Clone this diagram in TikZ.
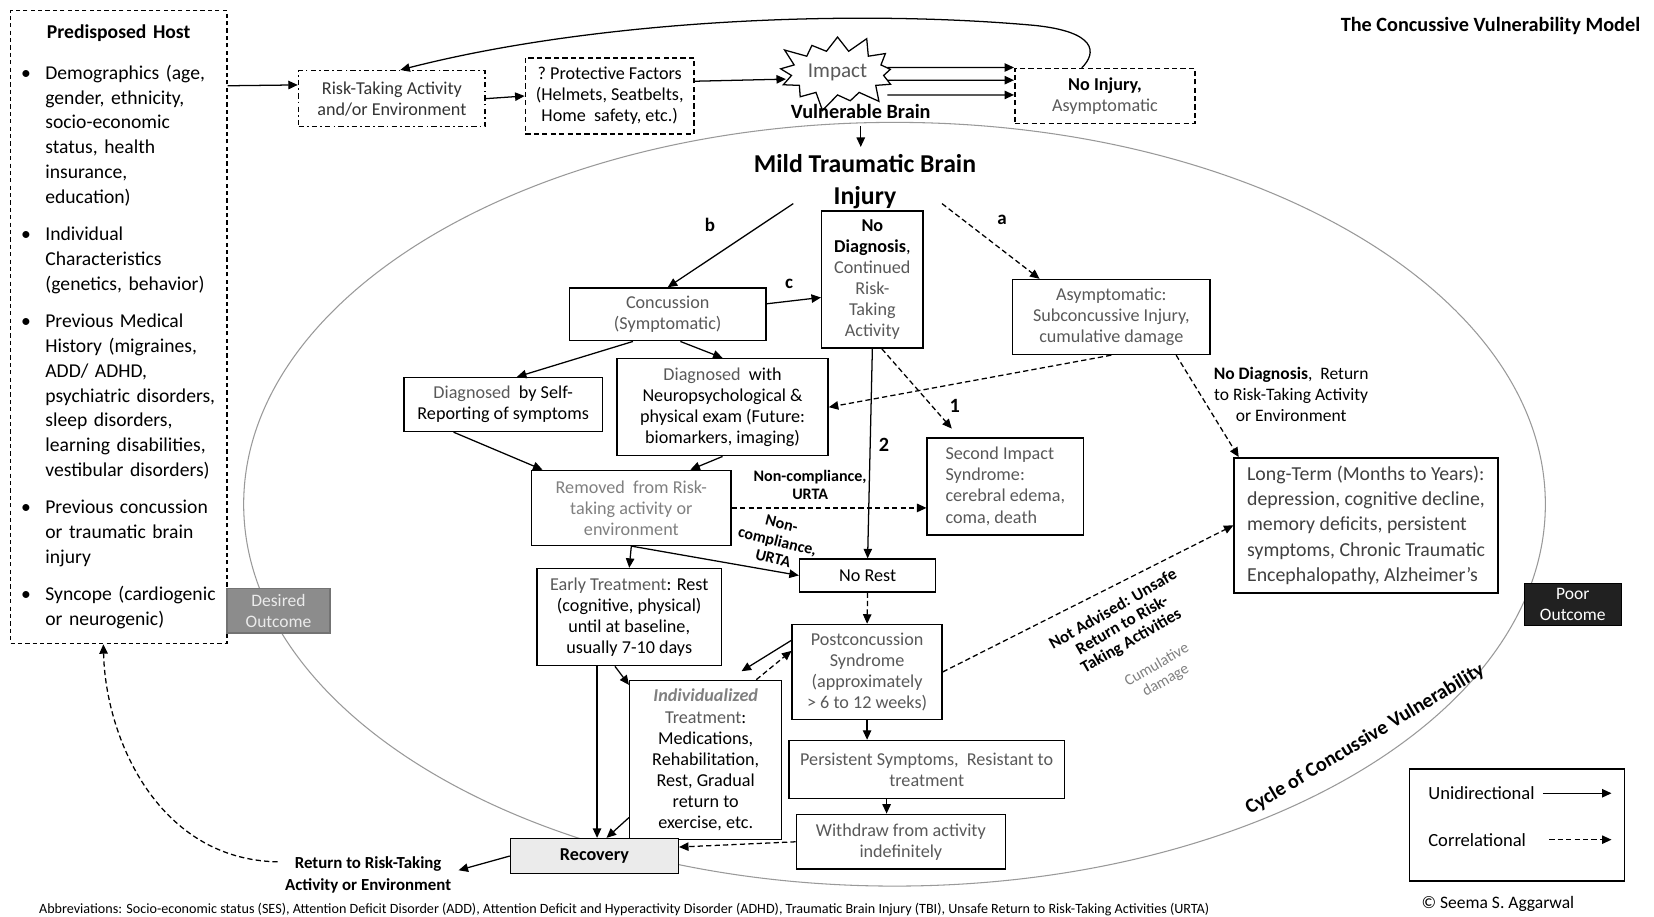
\documentclass[tikz,border=0pt]{standalone}
\usepackage{fontspec}
\setmainfont{Carlito}
\usepackage{tikz}
\usetikzlibrary{arrows.meta,shapes.symbols}
\definecolor{txtgray}{gray}{0.35}
\definecolor{ltgray}{gray}{0.5}
\definecolor{linegray}{gray}{0.6}
\newcommand{\boxfont}{\fontsize{8.6}{10}\selectfont}
\newcommand{\hostitem}{\par\vspace{6pt}\hangindent=11.5pt\hangafter=1\noindent\makebox[11.5pt][l]{\textbullet}}

\begin{document}
\begin{tikzpicture}[x=0.5pt, y=-0.5pt,
    cvbox/.style={draw, line width=0.7pt, fill=white, align=center, inner sep=1pt, font=\boxfont},
    uni/.style={-{Triangle[length=4.5pt,width=4pt]}, line width=0.6pt},
    corr/.style={uni, dash pattern=on 2.5pt off 1.5pt},
    lbl/.style={font=\fontsize{7.6}{8.5}\selectfont\bfseries, align=center}]
    \path[fill=white, use as bounding box] (0,0) rectangle (1568,869);
    \draw[draw=linegray, line width=0.5pt] (848,478) ellipse [x radius=617, y radius=362];

    \node[draw, line width=0.7pt, dash pattern=on 2pt off 1.5pt, fill=white, text width=92.5pt,
        inner xsep=5pt, minimum height=300pt, align=left, font=\fontsize{9.3}{11.75}\selectfont] (host) at (112.5,310) {%
        \hyphenpenalty=10000\exhyphenpenalty=10000
        \makebox[\linewidth]{\textbf{Predisposed Host}}\par\vspace{1.5pt}
        \hostitem Demographics (age,\newline gender, ethnicity,\newline socio-economic\newline status, health\newline insurance,\newline education)
        \hostitem Individual\newline Characteristics\newline (genetics, behavior)
        \hostitem Previous Medical\newline History (migraines,\newline ADD/ ADHD,\newline psychiatric disorders,\newline sleep disorders,\newline learning disabilities,\newline vestibular disorders)
        \hostitem Previous concussion\newline or traumatic brain\newline injury
        \hostitem Syncope (cardiogenic\newline or neurogenic)\par};

    \node[cvbox, dash pattern=on 2.5pt off 1.5pt on 0.8pt off 1.5pt, minimum width=88.5pt, minimum height=26.5pt, text=black!80] (risk) at (371.5,93.5) {Risk-Taking Activity\\and/or Environment};
    \node[cvbox, dash pattern=on 2.5pt off 1.5pt, minimum width=80pt, minimum height=36pt] (prot) at (578,91) {?~Protective Factors\\(Helmets, Seatbelts,\\Home~ safety, etc.)};
    \node[starburst, draw, line width=0.6pt, fill=white, starburst points=13, starburst point height=9pt,
        minimum width=62pt, minimum height=39pt, inner sep=0pt, text=txtgray, font=\fontsize{10}{11}\selectfont] (impact) at (794,69) {Impact};
    \node[font=\fontsize{9.6}{11}\selectfont\bfseries] (vb) at (816,106) {Vulnerable Brain};
    \node[cvbox, dash pattern=on 2.5pt off 1.5pt, minimum width=85.5pt, minimum height=26pt] (noinj) at (1047.5,91) {\textbf{No Injury,}\\\textcolor{txtgray}{Asymptomatic}};
    \node[font=\fontsize{9.6}{11}\selectfont\bfseries, anchor=east] (title) at (1562,25) {The Concussive Vulnerability Model};

    \node[font=\fontsize{12.2}{15}\selectfont\bfseries, align=center] (mtbi) at (820,172) {Mild Traumatic Brain\\Injury};
    \coordinate (bstart) at (752,193);
    \coordinate (astart) at (893,193);

    \node[cvbox, minimum width=93pt, minimum height=25pt, text=txtgray] (conc) at (633,298) {Concussion\\(Symptomatic)};
    \node[cvbox, minimum width=48pt, minimum height=65pt, text=txtgray] (nodiag) at (827,265) {\textcolor{black}{\textbf{No}}\\\textcolor{black}{\textbf{Diagnosis},}\\Continued\\Risk-\\Taking\\Activity};
    \node[cvbox, minimum width=93.5pt, minimum height=35.5pt, text=txtgray] (asym) at (1053.5,300.5) {Asymptomatic:\\Subconcussive Injury,\\cumulative damage};
    \node[cvbox, minimum width=94pt, minimum height=25.5pt] (selfrep) at (477,383.5) {\textcolor{txtgray}{Diagnosed}~ by Self-\\Reporting of symptoms};
    \node[cvbox, minimum width=100pt, minimum height=46pt] (neuro) at (685,386) {\textcolor{txtgray}{Diagnosed}~ with\\Neuropsychological \&\\physical exam (Future:\\biomarkers, imaging)};
    \node[cvbox, minimum width=74pt, minimum height=46pt, text=txtgray, align=left] (sis) at (953,461) {Second Impact\\Syndrome:\\cerebral edema,\\coma, death};
    \node[cvbox, minimum width=125pt, minimum height=64pt, text=black!75, align=left, font=\fontsize{9.4}{12}\selectfont] (longterm) at (1295,498) {Long-Term (Months to Years):\\depression, cognitive decline,\\memory deficits, persistent\\symptoms, Chronic Traumatic\\Encephalopathy, Alzheimer's};
    \node[cvbox, minimum width=94.5pt, minimum height=35.5pt, text=ltgray] (removed) at (598.5,481.5) {Removed~ from Risk-\\taking activity or\\environment};
    \node[cvbox, minimum width=64.5pt, minimum height=15.5pt] (norest) at (822.5,545.5) {No Rest};
    \node[cvbox, minimum width=87.5pt, minimum height=46pt] (early) at (596.5,585) {\textcolor{txtgray}{Early Treatment}: Rest\\(cognitive, physical)\\until at baseline,\\usually 7-10 days};
    \node[cvbox, minimum width=71pt, minimum height=45pt, text=txtgray] (post) at (822,637) {Postconcussion\\Syndrome\\(approximately\\> 6 to 12 weeks)};
    \node[cvbox, minimum width=72pt, minimum height=75.5pt] (indiv) at (669,720.5) {\textcolor{ltgray}{\textbf{\textit{Individualized}}}\\\textcolor{txtgray}{Treatment}:\\Medications,\\Rehabilitation,\\Rest, Gradual\\return to\\exercise, etc.};
    \node[cvbox, minimum width=130.5pt, minimum height=27.5pt, text=txtgray] (persist) at (878.5,729.5) {Persistent Symptoms,~ Resistant to\\treatment};
    \node[cvbox, minimum width=99pt, minimum height=26pt, text=txtgray] (withdraw) at (854,798) {Withdraw from activity\\indefinitely};
    \node[cvbox, fill=black!8, minimum width=79.5pt, minimum height=16.5pt, font=\boxfont\bfseries] (recovery) at (563.5,811.5) {Recovery};
    \node[font=\fontsize{8}{10.5}\selectfont\bfseries, align=center] (ret) at (349,829) {Return to Risk-Taking\\Activity or Environment};

    \node[cvbox, fill=black!45, draw=black!55, text=black!8, minimum width=49pt, minimum height=21pt, font=\fontsize{8.3}{10}\selectfont] (desired) at (264,579) {Desired\\Outcome};
    \node[cvbox, fill=black!87, minimum width=46pt, minimum height=20pt, text=white, font=\fontsize{8.3}{10}\selectfont] (poor) at (1491,573) {Poor\\Outcome};

    \node[lbl, font=\fontsize{9}{10}\selectfont\bfseries] (lb) at (673,213) {b};
    \node[lbl, font=\fontsize{9}{10}\selectfont\bfseries] (lc) at (748,269) {c};
    \node[lbl, font=\fontsize{9}{10}\selectfont\bfseries] (la) at (950,208) {a};
    \node[lbl, font=\fontsize{9.6}{10}\selectfont\bfseries] (l1) at (905,385) {1};
    \node[lbl, font=\fontsize{9.6}{10}\selectfont\bfseries] (l2) at (838,422) {2};
    \node[lbl] (nc1) at (768,460) {Non-compliance,\\URTA};
    \node[lbl, rotate=-14] (nc2) at (737,513) {Non-\\compliance,\\URTA};
    \node[font=\fontsize{8.3}{10}\selectfont, align=center] (ndlbl) at (1224,374) {\textbf{No Diagnosis},~ Return\\to Risk-Taking Activity\\or Environment};
    \node[rotate=30, font=\fontsize{8}{8.6}\selectfont\bfseries, align=center] (notadv) at (1064,593) {Not Advised: Unsafe\\Return to Risk-\\Taking Activities};
    \node[rotate=30, font=\fontsize{7.4}{8.4}\selectfont, text=ltgray, align=center] (cumdmg) at (1101,638) {Cumulative\\damage};
    \node[rotate=31, font=\fontsize{9.6}{11}\selectfont\bfseries] (cycle) at (1294,701) {Cycle of Concussive Vulnerability};

    \node[draw, line width=0.7pt, minimum width=102pt, minimum height=53pt] (legend) at (1438,782) {};
    \node[anchor=west, font=\fontsize{8.8}{10}\selectfont] (legU) at (1347,752) {Unidirectional};
    \node[anchor=west, font=\fontsize{8.8}{10}\selectfont] (legC) at (1347,796) {Correlational};
    \draw[uni] ([xshift=-39pt]legend.east |- legU) -- ([xshift=-6.5pt]legend.east |- legU);
    \draw[corr] ([xshift=-36pt]legend.east |- legC) -- ([xshift=-6.5pt]legend.east |- legC);
    \node[font=\fontsize{8.3}{10}\selectfont] (copy) at (1420,857) {© Seema S. Aggarwal};
    \node[font=\fontsize{6.7}{7.5}\selectfont, anchor=west] (abbr) at (30,862) {Abbreviations: Socio-economic status (SES), Attention Deficit Disorder (ADD), Attention Deficit and Hyperactivity Disorder (ADHD), Traumatic Brain Injury (TBI), Unsafe Return to Risk-Taking Activities (URTA)};

    \draw[uni] ([yshift=-36pt]host.north east) -- ([yshift=6.5pt]risk.west);
    \draw[uni] (risk.east) -- (prot.west);
    \draw[uni] ([yshift=7pt]prot.east) -- ([yshift=-3pt]impact.west);
    \draw[uni] ([yshift=2.5pt]impact.east) -- ([yshift=13.5pt]noinj.west);
    \draw[uni] ([yshift=-3.5pt]impact.east) -- ([yshift=7.5pt]noinj.west);
    \draw[uni] ([yshift=-10.5pt]impact.east) -- ([yshift=0.5pt]noinj.west);
    \draw[uni] ([xshift=-11pt]noinj.north) .. controls (1040,50) and (1040,30) .. (980,24)
        .. controls (800,8) and (560,20) .. ([xshift=4pt]risk.north);
    \draw[uni] (vb.south) -- (vb.south |- mtbi.north);
    \draw[uni] (bstart) -- (conc.north);
    \draw[corr] (astart) -- ([xshift=-34pt]asym.north);
    \draw[uni] ([yshift=5pt]conc.east) -- ([yshift=-8.5pt]nodiag.west);
    \draw[uni] ([xshift=-16.5pt]conc.south) -- ([xshift=6.5pt]selfrep.north);
    \draw[uni] ([xshift=6pt]conc.south) -- (neuro.north);
    \draw[corr] (asym.south) -- (neuro.east);
    \draw[corr] ([xshift=30.75pt]asym.south) -- ([xshift=2.5pt]longterm.north west);
    \draw[uni] (nodiag.south) -- (norest.north);
    \draw[corr] ([xshift=4.5pt]nodiag.south) -- ([xshift=12pt,yshift=4pt]sis.north west);
    \draw[uni] ([xshift=-23.5pt]selfrep.south) -- ([xshift=5.5pt]removed.north west);
    \draw[uni] (neuro.south) -- ([xshift=28pt]removed.north);
    \draw[corr] (removed.east) -- (removed.east -| sis.west);
    \draw[uni] (removed.south) -- (early.north);
    \draw[uni] (removed.south) -- (norest.west);
    \draw[corr] (norest.south) -- (post.north);
    \draw[uni] ([xshift=-6.75pt]early.south) -- ([yshift=-2.5pt]indiv.north west);
    \draw[uni] ([xshift=-15.25pt]early.south) -- ([xshift=-15.25pt]early.south |- recovery.north);
    \draw[uni] ([yshift=-27.25pt]indiv.west) -- ([xshift=5.75pt]recovery.north);
    \draw[uni] ([yshift=15pt]post.west) -- ([xshift=17pt,yshift=4pt]indiv.north);
    \draw[corr] ([xshift=24pt]indiv.north) -- ([yshift=10pt]post.west);
    \draw[uni] (post.south) -- (post.south |- persist.north);
    \draw[uni] ([xshift=-19pt]persist.south) -- ([xshift=-19pt]persist.south |- withdraw.north);
    \draw[corr] (withdraw.west) -- ([yshift=4.25pt]recovery.east);
    \draw[corr] (post.east) -- (longterm.west);
    \draw[uni] (recovery.west) -- ([yshift=2pt]ret.east);
    \draw[corr] ([yshift=6pt]ret.west) .. controls (150,815) and (100,700) .. ([xshift=-7.25pt]host.south);
\end{tikzpicture}
\end{document}
